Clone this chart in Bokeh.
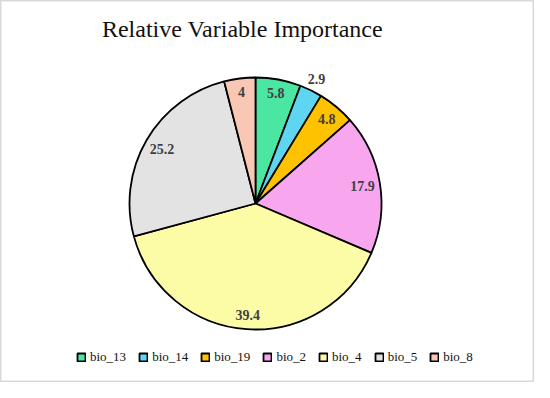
import math
from bokeh.plotting import figure
from bokeh.models import ColumnDataSource, Range1d, Legend, LegendItem
from bokeh.core.properties import value
from bokeh.embed import file_html
from bokeh.resources import INLINE

# ---- data ----
categories = ["bio_13", "bio_14", "bio_19", "bio_2", "bio_4", "bio_5", "bio_8"]
importance = [5.8, 2.9, 4.8, 17.9, 39.4, 25.2, 4.0]
labels = ["5.8", "2.9", "4.8", "17.9", "39.4", "25.2", "4"]
colors = ["#4ae6a2", "#5ed6f2", "#ffc200", "#f8a6ee", "#fdfca6", "#e3e3e3", "#f9c8b5"]
label_radius = [0.89, 1.10, 0.88, 0.86, 0.89, 0.86, 0.89]

SERIF = "'Liberation Serif', 'Times New Roman', Times, serif"

# ---- layout (page px) ----
W, H = 534, 382
cx, cy, R = 255, 398 - 203, 126

total = sum(importance)
starts, ends, lx, ly = [], [], [], []
cum = 0.0
for v, lr in zip(importance, label_radius):
    a0 = math.pi / 2 - 2 * math.pi * cum / total
    a1 = math.pi / 2 - 2 * math.pi * (cum + v) / total
    starts.append(a1)
    ends.append(a0)
    mid = (a0 + a1) / 2
    lx.append(cx + lr * R * math.cos(mid))
    ly.append(cy + lr * R * math.sin(mid))
    cum += v

src = ColumnDataSource(dict(cat=categories, val=importance, start=starts, end=ends,
                            color=colors, lx=lx, ly=ly, lab=labels))

p = figure(width=W, height=H, output_backend="svg", toolbar_location=None,
           x_range=Range1d(0, W), y_range=Range1d(398 - H, 398),
           min_border=0, outline_line_color="#d9d9d9", outline_line_width=2)
p.axis.visible = False
p.grid.visible = False
p.background_fill_color = "white"

r = p.wedge(x=cx, y=cy, radius=R, start_angle="start", end_angle="end",
            fill_color="color", line_color="black", line_width=1.8, source=src)

p.text(x="lx", y="ly", text="lab", source=src, text_align="center",
       text_baseline="middle", text_font=value(SERIF),
       text_font_style="bold", text_font_size="14px", text_color="#404040")

p.text(x=[242], y=[398 - 28], text=["Relative Variable Importance"],
       text_align="center", text_baseline="middle",
       text_font=value(SERIF), text_font_size="24px", text_color="#111111")

items = [LegendItem(label=c, renderers=[r], index=i) for i, c in enumerate(categories)]
legend = Legend(items=items, orientation="horizontal", location=(76, 17),
                glyph_width=10, glyph_height=10, label_standoff=4, spacing=12,
                padding=0, margin=0, border_line_alpha=0, background_fill_alpha=0,
                label_text_font=SERIF, label_text_font_size="13px",
                label_text_color="#111111", label_height=13)
p.add_layout(legend, "center")

open("out.html", "w").write(file_html(p, INLINE))
